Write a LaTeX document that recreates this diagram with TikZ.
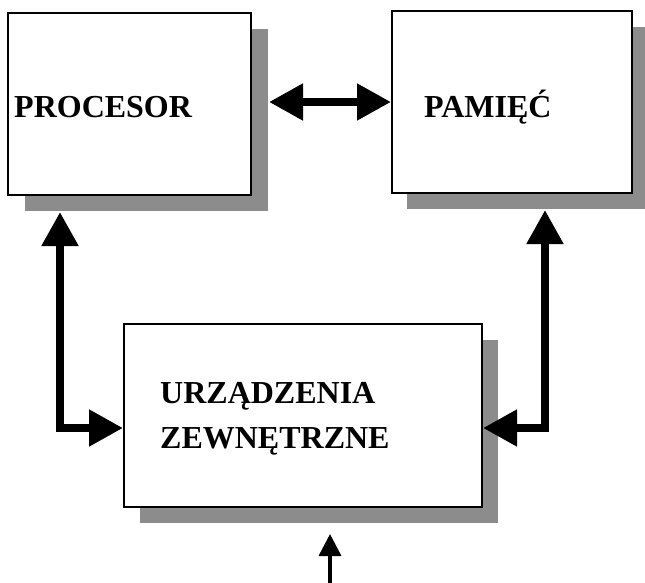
\documentclass[tikz,border=0pt]{standalone}
\usepackage{fontspec}
\setmainfont{Liberation Serif}
\usetikzlibrary{arrows.meta,shadows}
\tikzset{
  box/.style={draw=black, line width=2pt, fill=white, rectangle, inner sep=0pt,
    drop shadow={shadow xshift=#1, shadow yshift=-16pt, fill=black!45, opacity=1, draw=none}},
  lbl/.style={font=\fontsize{32}{45}\selectfont\bfseries, inner sep=0pt, anchor=base west, align=left},
  bigarrow/.style={line width=8pt, {Triangle[length=34pt,width=35pt]}-{Triangle[length=34pt,width=35pt]}},
  smallarrow/.style={line width=3.5pt, -{Triangle[length=22pt,width=22pt]}}
}
\begin{document}
\begin{tikzpicture}[x=1pt,y=-1pt]
\useasboundingbox (0,0) rectangle (645,583);
\fill[white] (0,0) rectangle (645,583);
% boxes
\node[box=17pt, minimum width=243pt, minimum height=182pt] (proc) at (129.5,104) {};
\node[box=15pt, minimum width=240pt, minimum height=182pt] (pam) at (512,102) {};
\node[box=16pt, minimum width=358pt, minimum height=183pt] (urz) at (303,415.5) {};
% labels
\node[lbl] (tproc) at (14,118) {PROCESOR};
\node[lbl] (tpam) at (424,118) {PAMIĘĆ};
\node[lbl] (turz) at (160,448) {URZĄDZENIA\\ZEWNĘTRZNE};
% connectors
\draw[bigarrow] ([xshift=17pt]proc.east |- pam.west) -- (pam.west);
\draw[bigarrow] ([xshift=-69.5pt,yshift=-16pt]proc.south) |- ([yshift=-12.5pt]urz.west);
\draw[bigarrow] ([xshift=33pt,yshift=-16pt]pam.south) |- ([yshift=-12.5pt]urz.east);
\coordinate (feed) at (330,583);
\draw[smallarrow] (feed) -- ([xshift=27pt,yshift=-26pt]urz.south);
\end{tikzpicture}
\end{document}
